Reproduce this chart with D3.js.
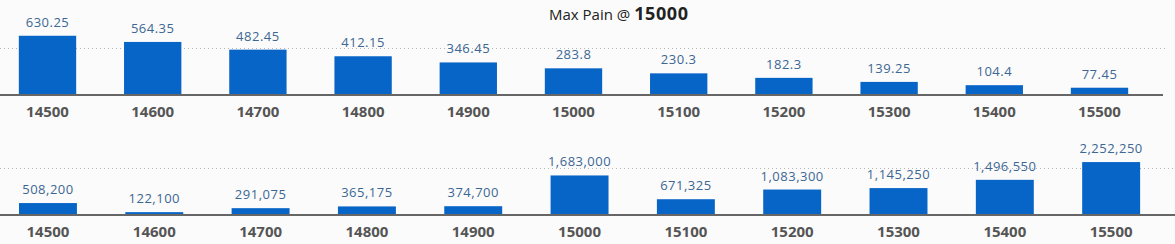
<!DOCTYPE html>
<html>
<head>
<meta charset="utf-8">
<script src="https://cdn.jsdelivr.net/npm/d3@7"></script>
<style>
  body { margin: 0; background: #fbfbfb; }
  svg { display: block; }
</style>
</head>
<body>
<script>

var strikes = ["14500", "14600", "14700", "14800", "14900", "15000", "15100", "15200", "15300", "15400", "15500"]

// premium at each strike (top chart)
var painValues = [630.25, 564.35, 482.45, 412.15, 346.45, 283.8, 230.3, 182.3, 139.25, 104.4, 77.45]
var painLabels = ["630.25", "564.35", "482.45", "412.15", "346.45", "283.8", "230.3", "182.3", "139.25", "104.4", "77.45"]

// open interest style totals (bottom chart)
var oiValues = [508200, 122100, 291075, 365175, 374700, 1683000, 671325, 1083300, 1145250, 1496550, 2252250]

var maxPainStrike = "15000"

var width = 1175
var height = 244

var svg = d3.select("body").append("svg")
    .attr("width", width)
    .attr("height", height)

svg.append("rect")
    .attr("width", width)
    .attr("height", height)
    .attr("fill", "#fbfbfb")

var title = svg.append("text")
    .attr("x", 549)
    .attr("y", 19.5)
    .attr("font-family", "Open Sans")
    .attr("fill", "#222")

title.append("tspan")
    .attr("font-size", 15)
    .text("Max Pain @ ")

title.append("tspan")
    .attr("font-size", 18)
    .attr("font-weight", "bold")
    .attr("letter-spacing", "0.6px")
    .text(maxPainStrike)

var drawPanel = function(opts){

    var x = d3.scaleBand()
        .domain(strikes)
        .range(opts.xRange)
        .paddingInner(0.455)
        .paddingOuter(0.2275)

    var y = d3.scaleLinear()
        .domain([0, opts.gridValue])
        .range([opts.baseline, opts.baseline - 47])

    var g = svg.append("g")

    // dotted grid line
    g.append("line")
        .attr("x1", 0)
        .attr("x2", opts.gridEnd)
        .attr("y1", Math.round(y(opts.gridValue)) + 0.5)
        .attr("y2", Math.round(y(opts.gridValue)) + 0.5)
        .attr("stroke", "#b5b5b5")
        .attr("stroke-dasharray", "1,3")

    g.selectAll("rect.bar")
        .data(opts.values)
        .enter()
        .append("rect")
        .attr("class", "bar")
        .attr("x", (d, i) => {return x(strikes[i])})
        .attr("width", x.bandwidth())
        .attr("y", (d) => {return y(d)})
        .attr("height", (d) => {return y(0) - y(d)})
        .attr("fill", "#0865c8")

    g.selectAll("text.val")
        .data(opts.values)
        .enter()
        .append("text")
        .attr("class", "val")
        .attr("x", (d, i) => {return x(strikes[i]) + x.bandwidth() / 2})
        .attr("y", (d) => {return y(d) - 9})
        .attr("text-anchor", "middle")
        .attr("font-family", "Open Sans")
        .attr("font-size", 13)
        .attr("letter-spacing", "0.5px")
        .attr("fill", "#3b6794")
        .text((d, i) => {return opts.labels[i]})

    // axis
    var axis = g.append("g")
        .attr("transform", "translate(0," + opts.baseline + ")")
        .call(d3.axisBottom(x).tickSize(0).tickPadding(0))

    axis.select(".domain").remove()

    axis.append("line")
        .attr("x1", 0)
        .attr("x2", opts.axisEnd)
        .attr("stroke", "#666")
        .attr("stroke-width", 2)

    axis.selectAll(".tick text")
        .attr("y", 22)
        .attr("dy", null)
        .attr("font-family", "Open Sans")
        .attr("font-size", 15)
        .attr("font-weight", "bold")
        .attr("fill", "#555")
}

drawPanel({
    values: painValues,
    labels: painLabels,
    xRange: [-5.1, 1152.1],
    baseline: 95,
    gridValue: 500,
    gridEnd: 1168,
    axisEnd: 1163
})

drawPanel({
    values: oiValues,
    labels: oiValues.map(d3.format(",")),
    xRange: [-5.2, 1164.3],
    baseline: 215,
    gridValue: 2000000,
    gridEnd: 1175,
    axisEnd: 1175
})

</script>
</body>
</html>
